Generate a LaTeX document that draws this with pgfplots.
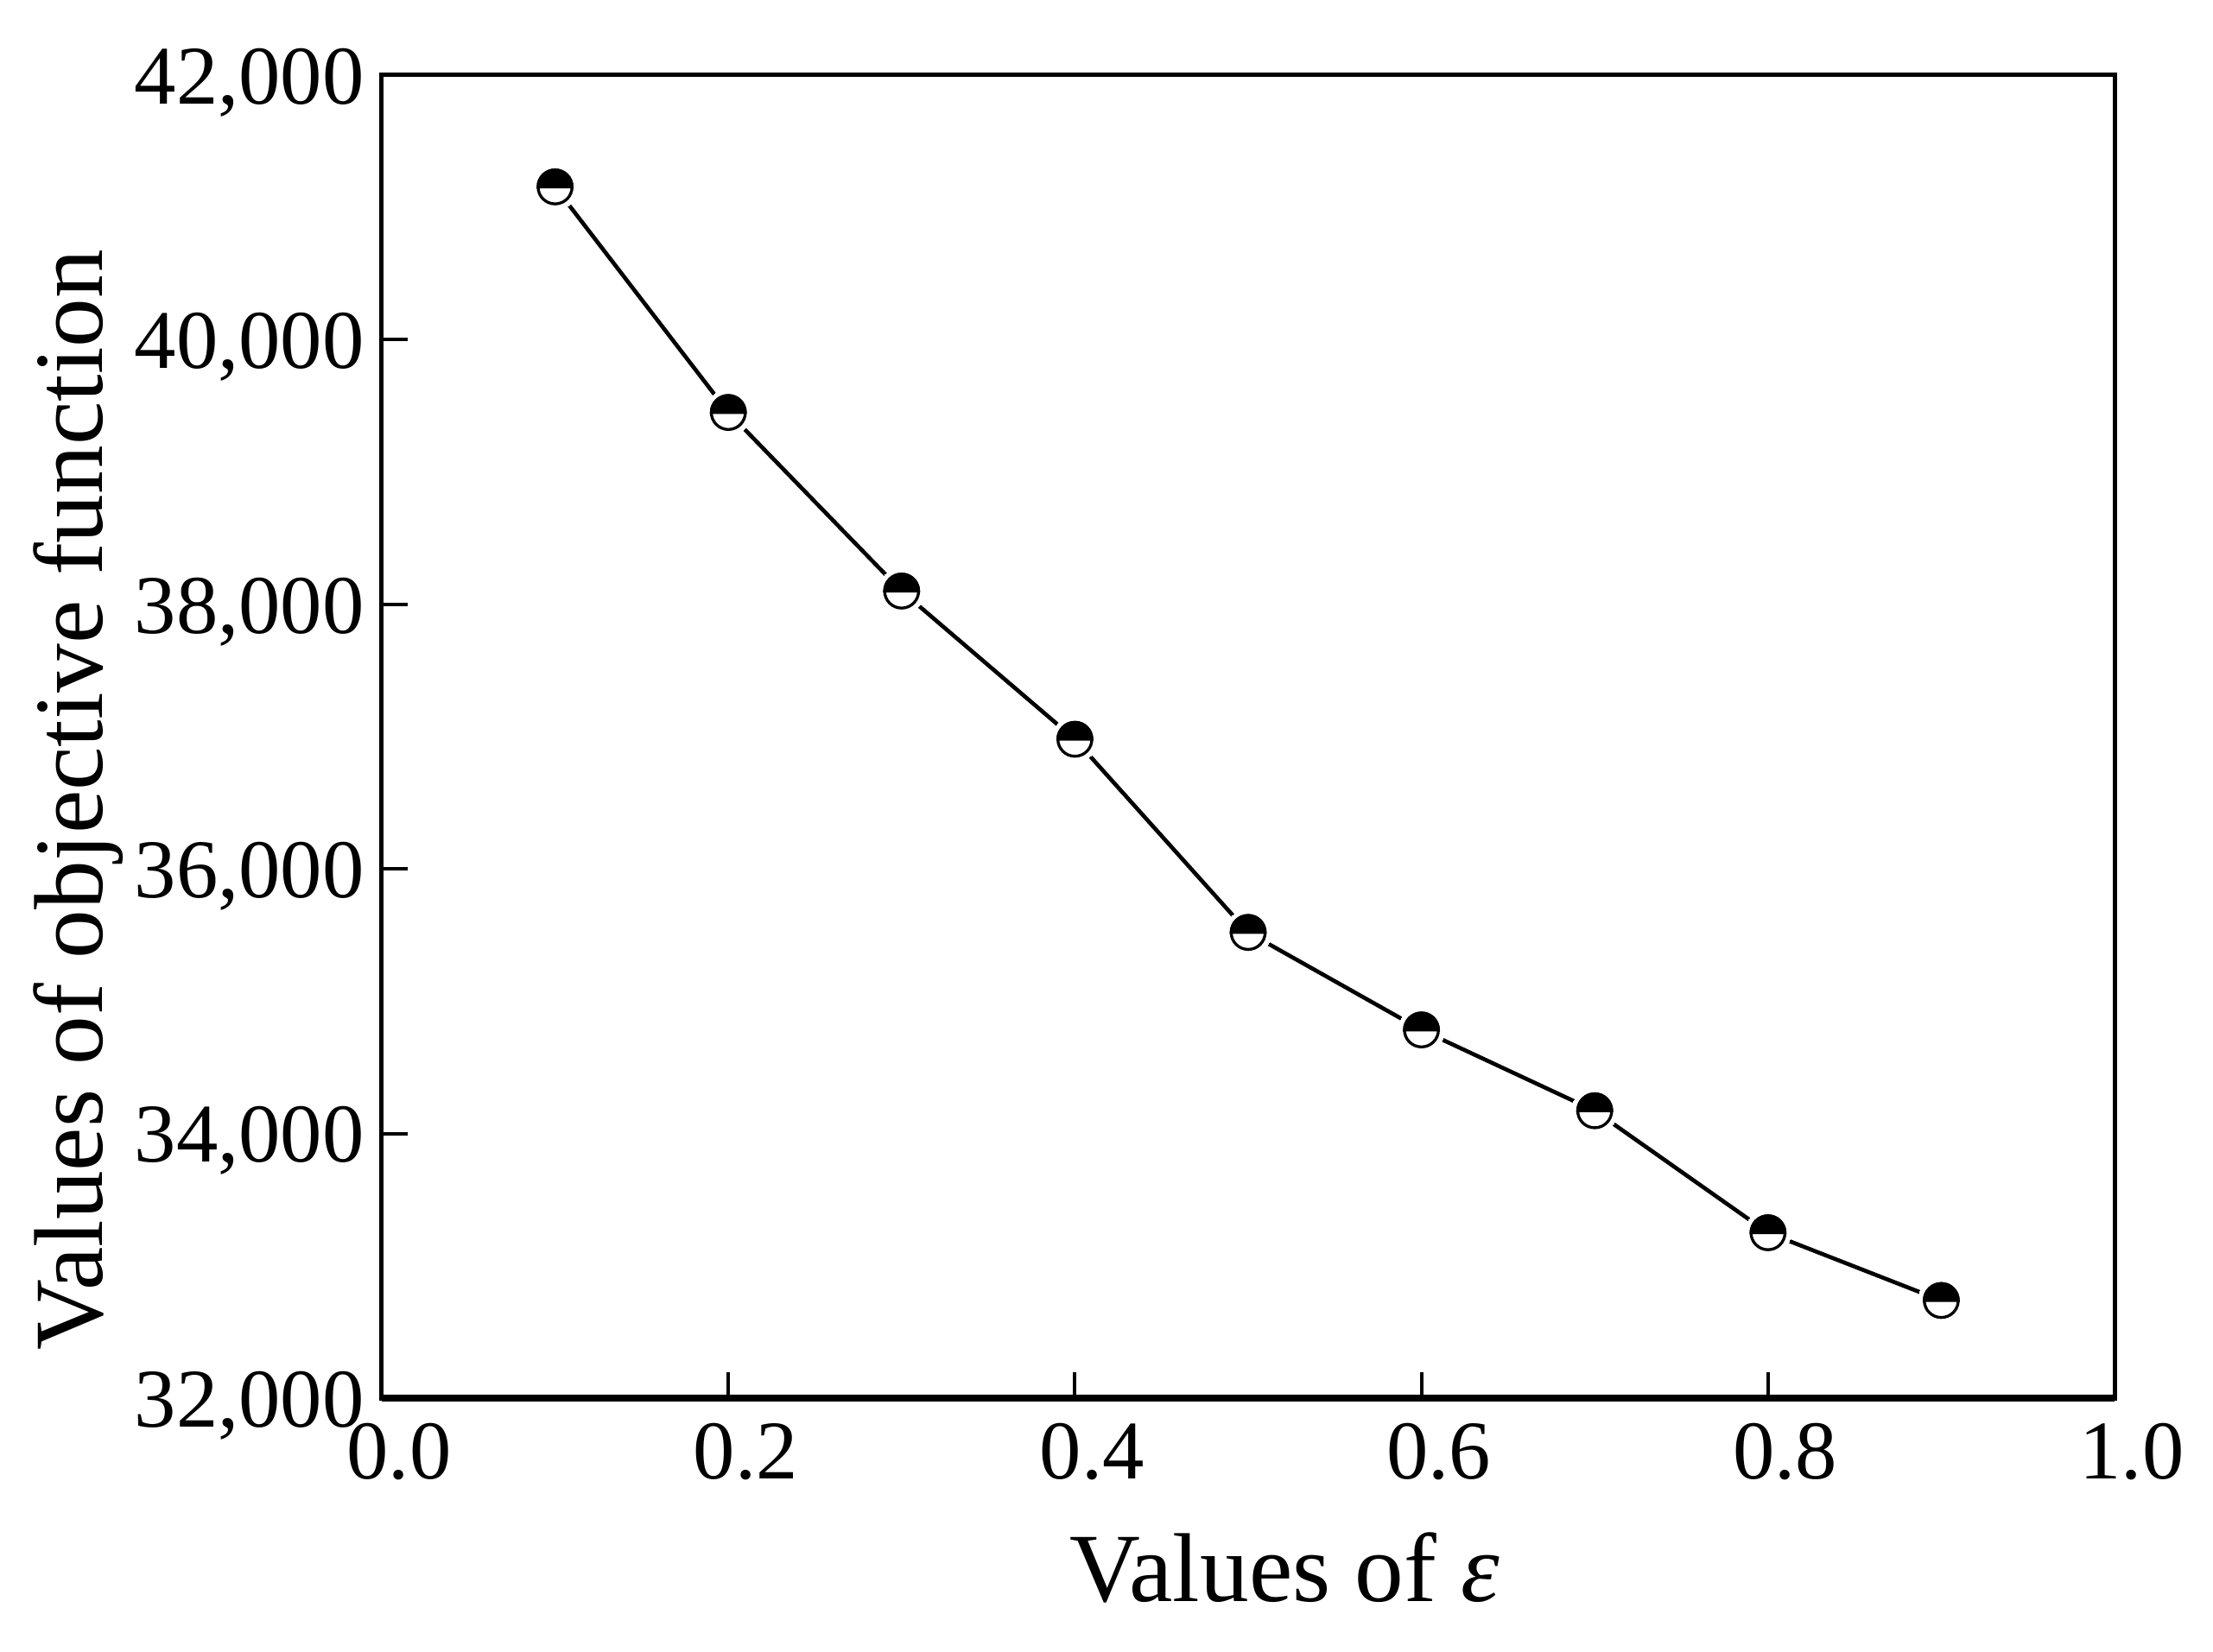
\documentclass[border=0pt]{standalone}
\usepackage{fontspec}
\setmainfont{Liberation Serif}
\usepackage{pgfplots}
\pgfplotsset{compat=1.18}
\pgfdeclareplotmark{halfblack}{%
  \pgfpathcircle{\pgfpointorigin}{\pgfplotmarksize}%
  \pgfsetfillcolor{white}%
  \pgfusepathqfillstroke
  \pgfpathmoveto{\pgfqpoint{\pgfplotmarksize}{0pt}}%
  \pgfpatharc{0}{180}{\pgfplotmarksize}%
  \pgfpathclose
  \pgfsetfillcolor{black}%
  \pgfusepathqfillstroke
}
\begin{document}
\begin{tikzpicture}
\path[use as bounding box] (-66.3pt,-43.95pt) rectangle (318pt,242.85pt);
\begin{axis}[
  at={(0pt,0pt)}, anchor=south west,
  scale only axis,
  width=300.9pt, height=229.8pt,
  xmin=0, xmax=1, ymin=32000, ymax=42000,
  scaled y ticks=false, scaled x ticks=false,
  xtick={0,0.2,0.4,0.6,0.8,1.0},
  xticklabels={0.0,0.2,0.4,0.6,0.8,1.0},
  ytick={32000,34000,36000,38000,40000,42000},
  yticklabels={{32,000},{34,000},{36,000},{38,000},{40,000},{42,000}},
  xtick pos=bottom, ytick pos=left,
  tick align=inside,
  major tick length=4.5pt,
  minor tick num=0,
  every tick/.style={black, line width=0.6pt},
  axis line style={black, line width=0.75pt},
  tick label style={font=\fontsize{14.5pt}{16pt}\selectfont},
  xticklabel style={anchor=north, inner sep=0pt, yshift=-4.2pt, xshift=3pt},
  yticklabel style={anchor=base east, inner sep=0pt, xshift=-2.85pt, yshift=-5pt},
  label style={font=\fontsize{17pt}{20pt}\selectfont},
  xlabel={Values of \textit{ε}},
  ylabel={Values of objective function},
  xlabel style={at={(axis description cs:0.521,-0.154)}, anchor=base},
  ylabel style={at={(axis description cs:-0.1615,0.452)}, anchor=base},
  clip=false,
]
\draw[line width=1.15pt, black] (rel axis cs:0,0) -- (rel axis cs:1,0);
\addplot[black, line width=0.7pt, no markers] coordinates {
  (0.1,41155) (0.2,39450) (0.3,38100) (0.4,36980) (0.5,35520)
  (0.6,34783) (0.7,34172) (0.8,33250) (0.9,32738)
};
\addplot[white, only marks, mark=*, mark size=4.0pt, mark options={draw=white, fill=white, line width=0pt}] coordinates {
  (0.1,41155) (0.2,39450) (0.3,38100) (0.4,36980) (0.5,35520)
  (0.6,34783) (0.7,34172) (0.8,33250) (0.9,32738)
};
\addplot[black, only marks, mark=halfblack, mark size=2.95pt, mark options={draw=black, line width=0.5pt}] coordinates {
  (0.1,41155) (0.2,39450) (0.3,38100) (0.4,36980) (0.5,35520)
  (0.6,34783) (0.7,34172) (0.8,33250) (0.9,32738)
};
\end{axis}
\end{tikzpicture}
\end{document}
